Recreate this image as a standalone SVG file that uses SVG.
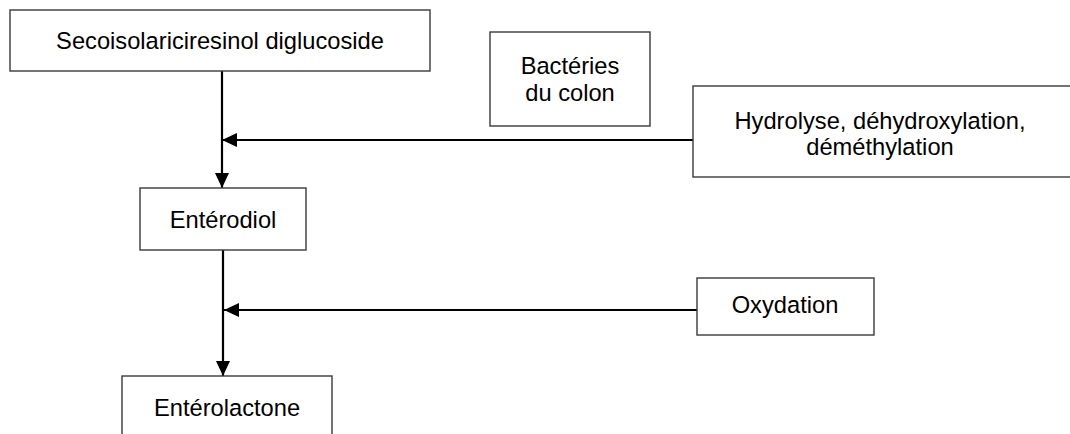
<svg xmlns="http://www.w3.org/2000/svg" width="1070" height="434" viewBox="0 0 1070 434">
  <style>
    .box { fill: #ffffff; stroke: #3a3a3a; stroke-width: 1.4; }
    .lbl { font-family: "Liberation Sans", Arial, sans-serif; font-size: 23.7px; fill: #000000; text-anchor: middle; }
    .conn { fill: none; stroke: #000000; stroke-width: 2.2; }
  </style>
  <defs>
    <marker id="arrow" viewBox="0 0 15 14" refX="15" refY="7" markerWidth="15" markerHeight="14" markerUnits="userSpaceOnUse" orient="auto">
      <path d="M0,0 L15,7 L0,14 Z" fill="#000000"/>
    </marker>
  </defs>
  <rect width="1070" height="434" fill="#ffffff"/>

  <g id="connectors">
    <path class="conn" d="M222,71 V188" marker-end="url(#arrow)"/>
    <path class="conn" d="M693,140 H222" marker-end="url(#arrow)"/>
    <path class="conn" d="M223,250 V376" marker-end="url(#arrow)"/>
    <path class="conn" d="M697,310 H224" marker-end="url(#arrow)"/>
  </g>

  <g id="node-secoisolariciresinol">
    <rect class="box" x="10" y="10" width="420" height="61"/>
    <text class="lbl" x="220" y="49">Secoisolariciresinol diglucoside</text>
  </g>

  <g id="node-bacteries">
    <rect class="box" x="490" y="32" width="160" height="94"/>
    <text class="lbl" x="570" y="74">Bactéries</text>
    <text class="lbl" x="570" y="101">du colon</text>
  </g>

  <g id="node-hydrolyse">
    <rect class="box" x="693" y="86" width="378" height="91"/>
    <text class="lbl" x="880" y="129">Hydrolyse, déhydroxylation,</text>
    <text class="lbl" x="880" y="155">déméthylation</text>
  </g>

  <g id="node-enterodiol">
    <rect class="box" x="140" y="188" width="166" height="62"/>
    <text class="lbl" x="223" y="228">Entérodiol</text>
  </g>

  <g id="node-oxydation">
    <rect class="box" x="697" y="278" width="177" height="57"/>
    <text class="lbl" x="785" y="313">Oxydation</text>
  </g>

  <g id="node-enterolactone">
    <rect class="box" x="122" y="376" width="210" height="70"/>
    <text class="lbl" x="227" y="416">Entérolactone</text>
  </g>
</svg>
